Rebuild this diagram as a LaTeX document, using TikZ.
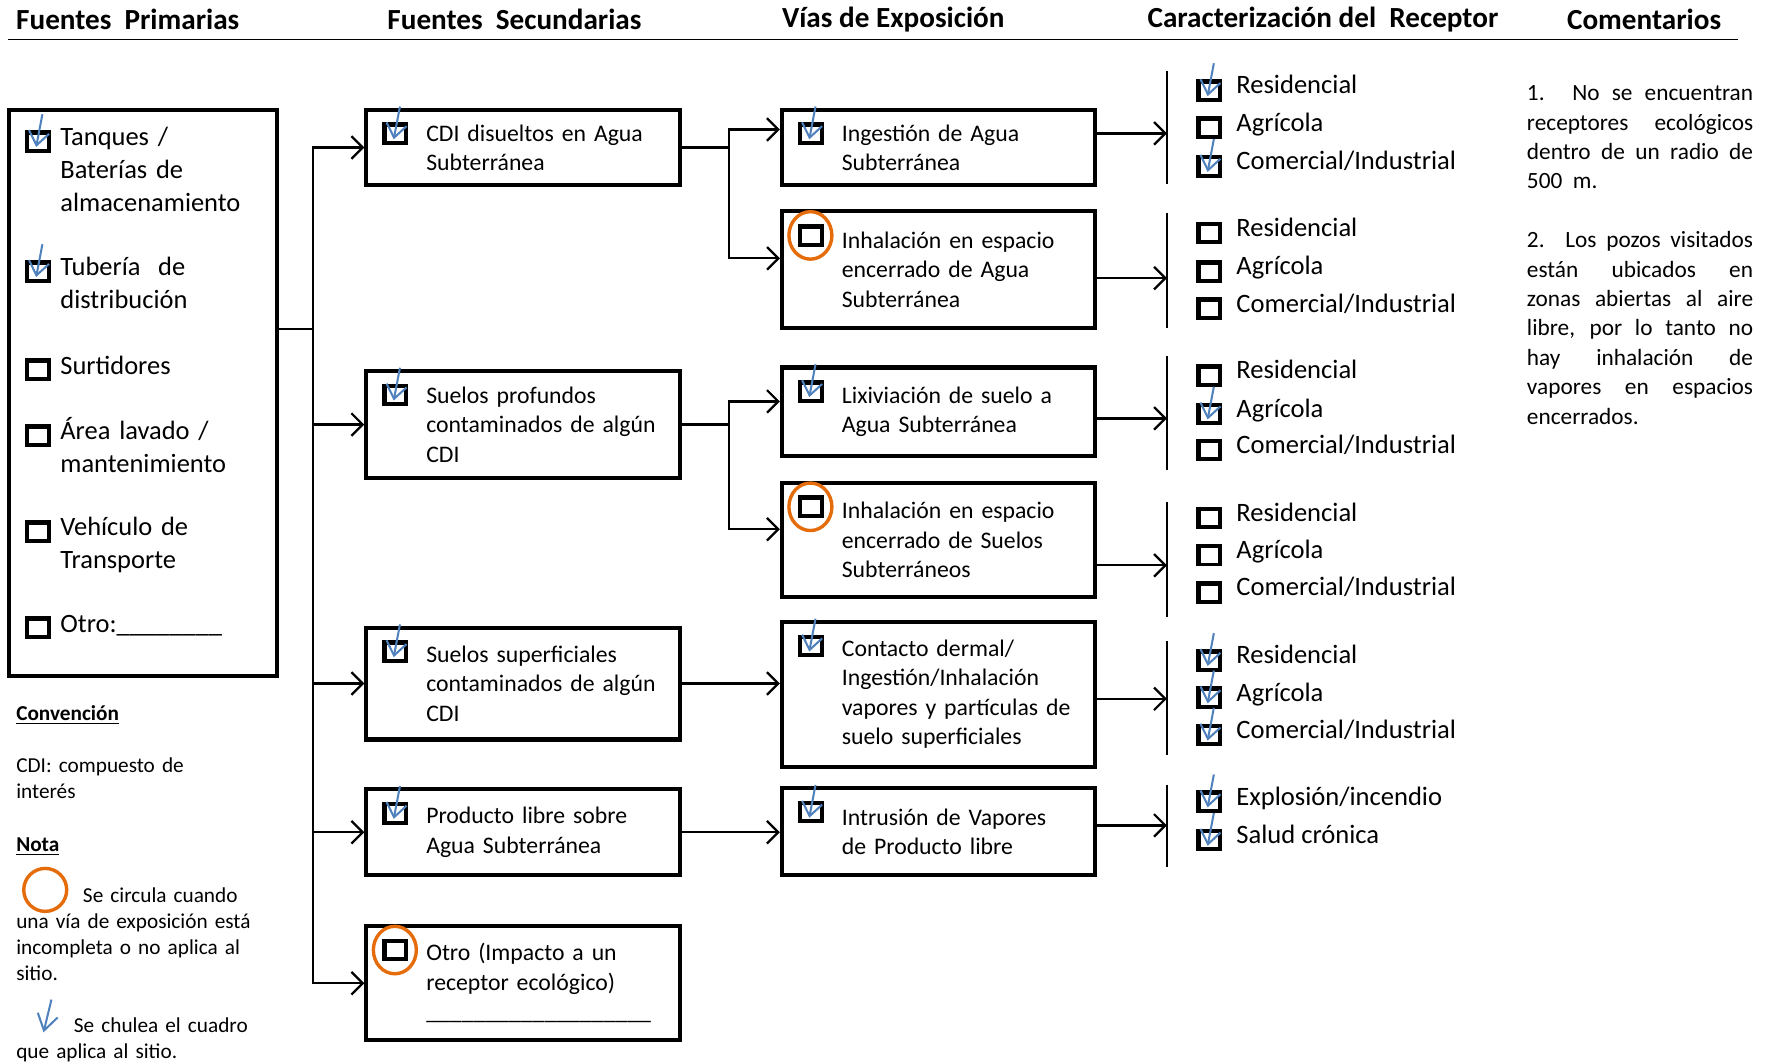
\documentclass[tikz,border=0pt]{standalone}
\usepackage{fontspec}
\setmainfont{Carlito}
\usetikzlibrary{arrows.meta,positioning,calc}
\definecolor{chkblue}{HTML}{4F81BD}
\definecolor{circorange}{HTML}{E46C0A}

\tikzset{
  boxtext/.style={font=\fontsize{10.5pt}{13pt}\selectfont},
  flowbox/.style={draw, line width=1.8pt, boxtext, text width=132.5pt, inner xsep=3pt, inner ysep=2pt,
    align=left, execute at begin node={\leftskip=23.5pt\relax}},
  conn/.style={line width=1pt, -{Straight Barb[length=5pt,width=10pt]}},
  bracket/.style={line width=0.75pt},
  head/.style={font=\fontsize{12.9pt}{15pt}\selectfont\bfseries},
  primtext/.style={font=\fontsize{11.7pt}{14.5pt}\selectfont, text width=95pt, align=left, anchor=base west, inner sep=0pt},
  rectext/.style={font=\fontsize{11.75pt}{14pt}\selectfont, anchor=base west, inner sep=0pt},
  legtext/.style={font=\fontsize{9.4pt}{11.5pt}\selectfont, text width=115pt, align=left, anchor=base west, inner sep=0pt},
  comtext/.style={font=\fontsize{10.3pt}{13pt}\selectfont, text width=100pt, align=justify, anchor=base west, inner sep=0pt},
  chkline/.style={chkblue, line width=0.9pt},
  cbox/.pic={
    \fill (-11,-9) rectangle (12,11);
    \fill[white] (-7,-5) rectangle (8.5,7.5);
  },
  chkon/.pic={
    \pic {cbox};
    \draw[chkline, -{Straight Barb[length=6pt,width=9pt]}] (4.5,-23) -- (-1,6);
  },
  chkoff/.pic={\pic {cbox};},
  chkcirc/.pic={
    \pic {cbox};
    \draw[circorange, line width=1.5pt] (0,1) ellipse [x radius=19, y radius=21];
  }
}

\begin{document}
\begin{tikzpicture}[x=0.5pt,y=-0.5pt]
  \useasboundingbox (0,0) rectangle (1568,940);

  % headings
  \node[head] (hprim) at (113,17) {Fuentes~~Primarias};
  \node[head] (hsec) at (455,17) {Fuentes~~Secundarias};
  \node[head] (hvia) at (790,17) {Vías de Exposición};
  \node[head] (hrec) at (1170,17) {Caracterización del~~Receptor};
  \node[head] (hcom) at (1454,17) {Comentarios};
  \draw[line width=0.75pt] (7,35) -- (1537,35);

  % primary sources
  \node[draw, line width=1.8pt, minimum width=118.5pt, minimum height=250.5pt] (prim) at (126.5,347.5) {};
  \foreach \y/\st/\txt [count=\i] in {122/chkon/{Tanques /\\Baterías de\\almacenamiento},
      237/chkon/{Tubería~~de\\distribución}, 324/chkoff/{Surtidores},
      382/chkoff/{Área lavado /\\mantenimiento}, 467/chkoff/{Vehículo de\\Transporte},
      552/chkoff/{Otro:\_\_\_\_\_\_\_\_}}{
    \pic at (33,\y+2) {\st};
    \node[primtext] (p\i) at (53,\y+7) {\txt};
  }

  % secondary sources
  \node[flowbox, minimum height=33.5pt] (s1) at (462.5,130.5) {CDI disueltos en Agua\\Subterránea};
  \node[flowbox, minimum height=47.5pt] (s2) at (462.5,375.5) {Suelos profundos\\contaminados de algún\\CDI};
  \node[flowbox, minimum height=49.5pt] (s3) at (462.5,604.5) {Suelos superficiales\\contaminados de algún\\CDI};
  \node[flowbox, minimum height=38pt] (s4) at (462.5,736) {Producto libre sobre\\Agua Subterránea};
  \node[flowbox, minimum height=50.5pt] (s5) at (462.5,869.5) {Otro (Impacto a un\\receptor ecológico)\\\_\_\_\_\_\_\_\_\_\_\_\_\_\_\_\_\_\_\_};

  % exposure pathways
  \node[flowbox, minimum height=33.5pt] (e1) at (830,130.5) {Ingestión de Agua\\Subterránea};
  \node[flowbox, minimum height=51.5pt] (e2) at (830,238.5) {Inhalación en espacio\\encerrado de Agua\\Subterránea};
  \node[flowbox, minimum height=39pt] (e3) at (830,364) {Lixiviación de suelo a\\Agua Subterránea};
  \node[flowbox, minimum height=50.5pt] (e4) at (830,477.5) {Inhalación en espacio\\encerrado de Suelos\\Subterráneos};
  \node[flowbox, minimum height=64pt] (e5) at (830,614) {Contacto dermal/\\Ingestión/Inhalación\\vapores y partículas de\\suelo superficiales};
  \node[flowbox, minimum height=38.5pt] (e6) at (830,735.5) {Intrusión de Vapores\\de Producto libre};

  \foreach \b/\st in {s1/chkon, s2/chkon, s3/chkon, s4/chkon, s5/chkcirc,
      e1/chkon, e2/chkcirc, e3/chkon, e4/chkcirc, e5/chkon, e6/chkon}
    \pic at ([shift={(27,22)}]\b.north west) {\st};

  % connectors
  \draw[line width=1pt] ([yshift=28.25pt]prim.east) -- ++(30,0) coordinate (bus);
  \foreach \s in {s1,s2,s3,s4,s5}
    \draw[conn] (bus) |- (\s.west);

  \draw[line width=1pt] (s1.east) -- ++(42,0) coordinate (b1);
  \draw[conn] (b1) |- ([yshift=8pt]e1.west);
  \draw[conn] (b1) |- ([yshift=5pt]e2.west);
  \draw[line width=1pt] (s2.east) -- ++(42,0) coordinate (b2);
  \draw[conn] (b2) |- ([yshift=4.5pt]e3.west);
  \draw[conn] (b2) |- ([yshift=4.75pt]e4.west);
  \draw[conn] (s3.east) -- (s3.east -| e5.west);
  \draw[conn] (s4.east) -- (s4.east -| e6.west);

  % receptors
  \foreach \e/\ya/\yt/\yb [count=\i] in {e1/118/63/163, e2/246/188/290, e3/370/315/416,
      e4/500/444/546, e5/618/567/668, e6/730/694/767}{
    \draw[bracket] (1032,\yt) -- (1032,\yb);
    \coordinate (r\i) at (1032,\ya);
    \draw[conn] (\e.east |- r\i) -- (r\i);
  }
  \foreach \y/\st/\txt [count=\i] in {76/chkon/Residencial, 109/chkoff/Agrícola, 143/chkon/{Comercial/Industrial},
      202/chkoff/Residencial, 236/chkoff/Agrícola, 269/chkoff/{Comercial/Industrial},
      328/chkoff/Residencial, 362/chkon/Agrícola, 394/chkoff/{Comercial/Industrial},
      454/chkoff/Residencial, 487/chkoff/Agrícola, 520/chkoff/{Comercial/Industrial},
      580/chkon/Residencial, 613/chkon/Agrícola, 646/chkon/{Comercial/Industrial},
      705/chkon/{Explosión/incendio}, 739/chkon/{Salud crónica}}{
    \pic at (1069,\y+3) {\st};
    \node[rectext] (rt\i) at (1093,\y+7) {\txt};
  }

  % comments
  \node[comtext] (com1) at (1350,89) {1. No se encuentran\linebreak receptores ecológicos\linebreak dentro de un radio de\linebreak 500~~m.};
  \node[comtext] (com2) at (1350,219) {2. Los pozos visitados\linebreak están ubicados en\linebreak zonas abiertas al aire\linebreak libre, por lo tanto no\linebreak hay inhalación de\linebreak vapores en espacios\linebreak encerrados.};

  % legend
  \node[legtext] (conv) at (14,637) {\underline{\textbf{Convención}}};
  \node[legtext] (cdi) at (14,683) {CDI: compuesto de\\interés};
  \node[legtext] (nota) at (14,753) {\underline{\textbf{Nota}}};
  \draw[circorange, line width=1.5pt] (40,787) circle [radius=19];
  \node[legtext] (ncirc) at (14,798) {\hspace*{29.5pt}Se circula cuando\\una vía de exposición está\\incompleta o no aplica al\\sitio.};
  \draw[chkline, -{Straight Barb[length=7pt,width=9pt]}] (45.5,884) -- (38.5,913);
  \node[legtext] (nchk) at (14,913) {\hspace*{25.5pt}Se chulea el cuadro\\que aplica al sitio.};
\end{tikzpicture}
\end{document}
